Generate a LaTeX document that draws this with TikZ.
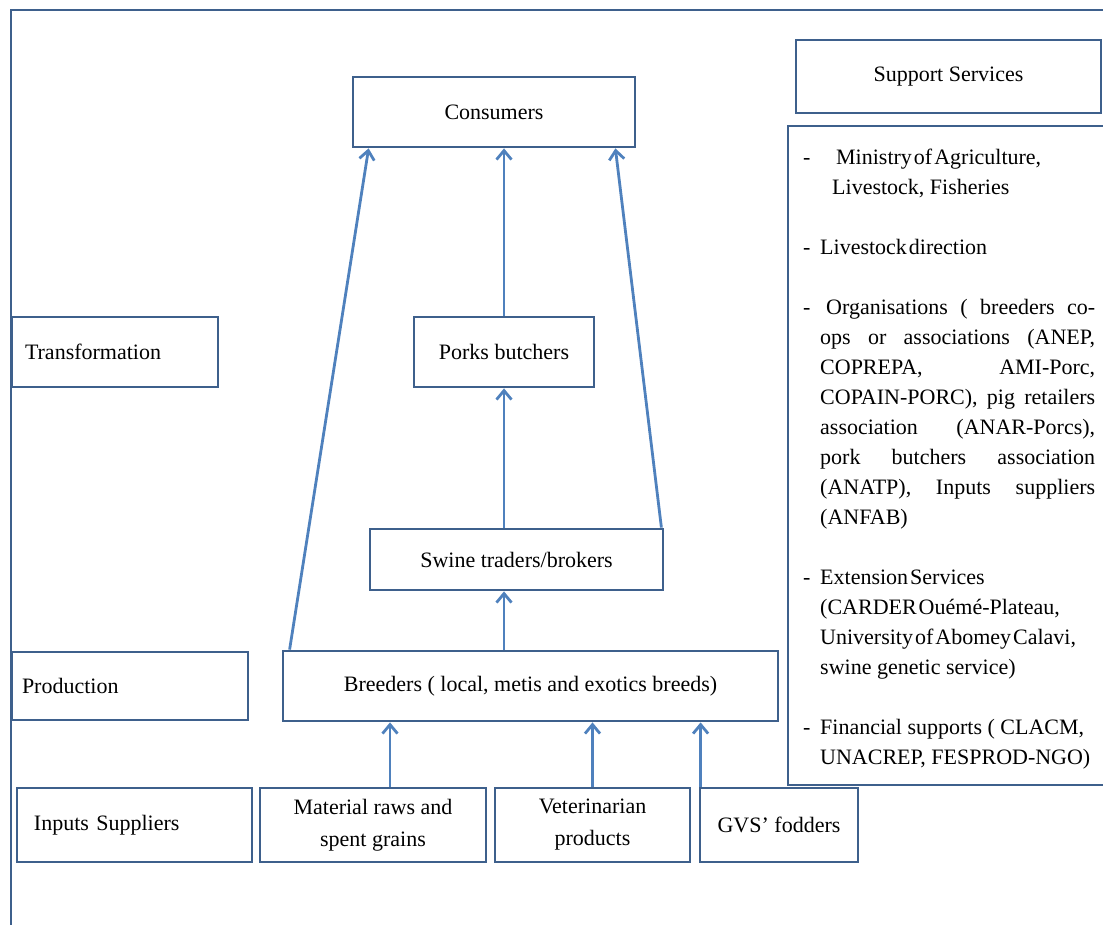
\documentclass[tikz,border=0pt]{standalone}
\usepackage{fontspec}
\setmainfont{Liberation Serif}
\usetikzlibrary{arrows.meta}
\definecolor{boxblue}{RGB}{62,96,140}
\definecolor{arrowblue}{RGB}{79,129,189}
\newcommand{\itemdash}{\makebox[17pt][l]{-}}
\newcommand{\fillline}[1]{\makebox[275pt][s]{#1}}
\newcommand{\tightline}[1]{{\spaceskip=2pt\relax #1}}

\begin{document}
\begin{tikzpicture}[x=1pt,y=-1pt,
    box/.style={draw=boxblue, line width=2.8pt, inner sep=0pt, align=center,
      font=\fontsize{22}{32}\selectfont},
    flow/.style={draw=arrowblue, line width=2.8pt, -{Straight Barb[length=9pt,width=15pt]}}]
  \useasboundingbox (0,0) rectangle (1103,925);
  % outer frame
  \draw[boxblue, line width=2.8pt] (1110,10) -- (11,10) -- (11,930);

  % levels on the left
  \node[box, minimum height=70pt, text width=180pt, inner xsep=13pt, align=left] (trans) at (115,352) {Transformation};
  \node[box, minimum height=68pt, text width=216pt, inner xsep=10pt, align=left] (prod) at (130,686) {Production};
  \node[box, minimum height=74pt, text width=201pt, inner xsep=17pt, align=left] (inp) at (134.5,825) {Inputs Suppliers};

  % the chain
  \node[box, minimum width=282pt, minimum height=70pt] (cons) at (494,112) {Consumers};
  \node[box, minimum width=180pt, minimum height=70pt] (pork) at (504,352) {Porks butchers};
  \node[box, minimum width=293pt, minimum height=61pt] (swine) at (516.5,559.5) {Swine traders/brokers};
  \node[box, minimum width=495pt, minimum height=70pt] (bree) at (530.5,686) {Breeders ( local, metis and exotics breeds)};

  % inputs
  \node[box, minimum width=226pt, minimum height=74pt] (mat) at (373,825) {Material raws and\\spent grains};
  \node[box, minimum width=195pt, minimum height=74pt] (vet) at (592.5,825) {Veterinarian\\products};
  \node[box, minimum width=158pt, minimum height=74pt] (gvs) at (779,825) {GVS' fodders};

  % support services
  \node[box, minimum width=305pt, minimum height=73pt] (supp) at (948.5,76.5) {Support Services};
  \node[box, minimum width=316pt, minimum height=659pt] (panel) at (946,455.5) {};
  \node[anchor=north west, inner sep=0pt, align=left,
    font=\fontsize{22}{30}\selectfont] (srv) at (803,149) {%
    \itemdash\hspace{16pt}\tightline{Ministry of Agriculture,}\\
    \hspace*{29pt}Livestock, Fisheries\\[30pt]
    \itemdash \tightline{Livestock direction}\\[30pt]
    \itemdash\fillline{\hspace*{6pt}Organisations ( breeders co-}\\
    \hspace*{17pt}\fillline{ops or associations (ANEP,}\\
    \hspace*{17pt}\fillline{COPREPA, AMI-Porc,}\\
    \hspace*{17pt}\fillline{COPAIN-PORC), pig retailers}\\
    \hspace*{17pt}\fillline{association (ANAR-Porcs),}\\
    \hspace*{17pt}\fillline{pork butchers association}\\
    \hspace*{17pt}\fillline{(ANATP), Inputs suppliers}\\
    \hspace*{17pt}(ANFAB)\\[30pt]
    \itemdash \tightline{Extension Services}\\
    \hspace*{17pt}\tightline{(CARDER Ouémé-Plateau,}\\
    \hspace*{17pt}\tightline{University of Abomey Calavi,}\\
    \hspace*{17pt}swine genetic service)\\[30pt]
    \itemdash Financial supports ( CLACM,\\
    \hspace*{17pt}UNACREP, FESPROD-NGO)};

  % flows
  \coordinate (matup) at ([xshift=17pt]mat.north);
  \coordinate (gvsup) at ([xshift=2pt]gvs.north west);
  \draw[flow] ([xshift=8pt]bree.north west) -- ([xshift=17pt]cons.south west);
  \draw[flow] (pork.north) -- (pork.north |- cons.south);
  \draw[flow] ([xshift=-3pt]swine.north east) -- ([xshift=-21pt]cons.south east);
  \draw[flow] (swine.north -| pork.south) -- (pork.south);
  \draw[flow] (bree.north -| pork.south) -- (swine.south -| pork.south);
  \draw[flow] (matup) -- (matup |- bree.south);
  \draw[flow] (vet.north) -- (vet.north |- bree.south);
  \draw[flow] (gvsup) -- (gvsup |- bree.south);
\end{tikzpicture}
\end{document}
